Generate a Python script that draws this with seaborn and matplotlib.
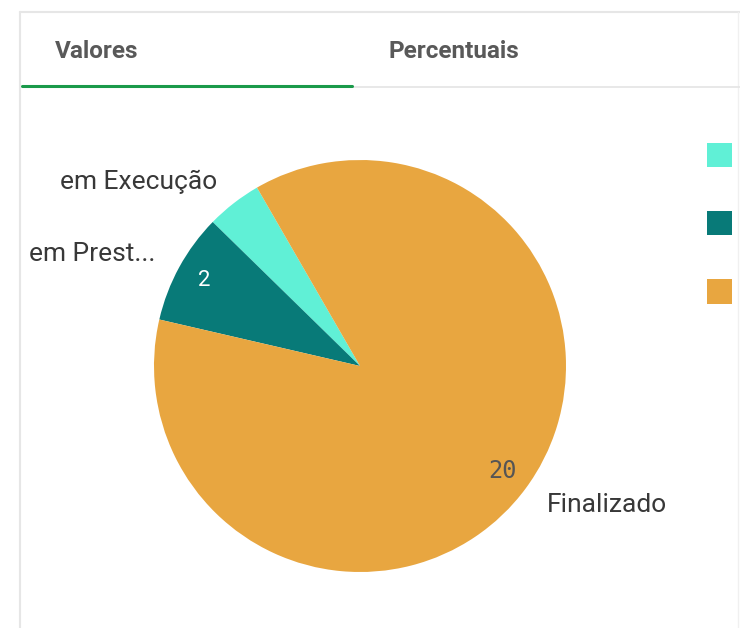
import matplotlib
matplotlib.use("Agg")
import matplotlib.pyplot as plt
import matplotlib.lines as mlines
import seaborn as sns

# data
status_labels = ["em Execução", "em Prest...", "Finalizado"]
status_values = [1, 2, 20]
status_colors = ["#60F0D6", "#087A78", "#E8A640"]
tab_labels = ["Valores", "Percentuais"]

sns.set_theme(style="white")
plt.rcParams["font.family"] = ["Roboto", "DejaVu Sans"]

W, H = 740, 628
fig = plt.figure(figsize=(W / 100, H / 100), dpi=100)
fig.patch.set_facecolor("white")

# panel frame and tab bar
def hline(y, x0, x1, color, lw):
    fig.add_artist(mlines.Line2D([x0 / W, x1 / W], [1 - y / H, 1 - y / H],
                                 color=color, lw=lw, transform=fig.transFigure))

def vline(x, y0, y1, color, lw):
    fig.add_artist(mlines.Line2D([x / W, x / W], [1 - y0 / H, 1 - y1 / H],
                                 color=color, lw=lw, transform=fig.transFigure))

hline(12, 20, 740, "#e6e6e6", 1.5)
vline(20, 12, 628, "#e6e6e6", 1.5)
vline(738, 12, 628, "#f0f0f0", 1.0)
hline(87, 352, 740, "#e4e4e4", 1.2)
hline(85.5, 22, 352, "#1a9a4a", 2.2)

fig.text(55 / W, 1 - 51 / H, tab_labels[0], fontsize=17.5, fontweight="bold",
         color="#595959", va="center", ha="left")
fig.text(388 / W, 1 - 51 / H, tab_labels[1], fontsize=17.5, fontweight="bold",
         color="#595959", va="center", ha="left")

# pie
cx, cy, r = 360, 366, 206
ax = fig.add_axes([(cx - r) / W, (H - cy - r) / H, 2 * r / W, 2 * r / H])
ax.set_aspect("auto")

palette = sns.color_palette(status_colors)

def fmt_value(pct):
    val = round(pct * sum(status_values) / 100)
    return "" if val < 2 else f"{val}"

wedges, texts, autotexts = ax.pie(
    status_values,
    labels=status_labels,
    colors=palette,
    startangle=120,
    counterclock=True,
    labeldistance=1.13,
    autopct=fmt_value,
    pctdistance=0.86,
    wedgeprops=dict(edgecolor="none", linewidth=0),
    textprops=dict(fontsize=19, color="#383838"),
)
ax.set_xlim(-1, 1)
ax.set_ylim(-1, 1)

autotexts[1].set_color("white")
autotexts[1].set_fontsize(16)
autotexts[2].set_color("#555555")
autotexts[2].set_fontsize(17)
autotexts[2].set_family("DejaVu Sans Mono")

# legend swatches only; their labels fall outside the panel in the original
leg = fig.legend(wedges, ["", "", ""], loc="upper left",
                 bbox_to_anchor=(707 / W, 1 - 143 / H),
                 frameon=False, fontsize=18, handlelength=1.0, handleheight=1.12,
                 labelspacing=1.7, borderpad=0, borderaxespad=0)

fig.savefig("out.png", dpi=100, facecolor="white")
